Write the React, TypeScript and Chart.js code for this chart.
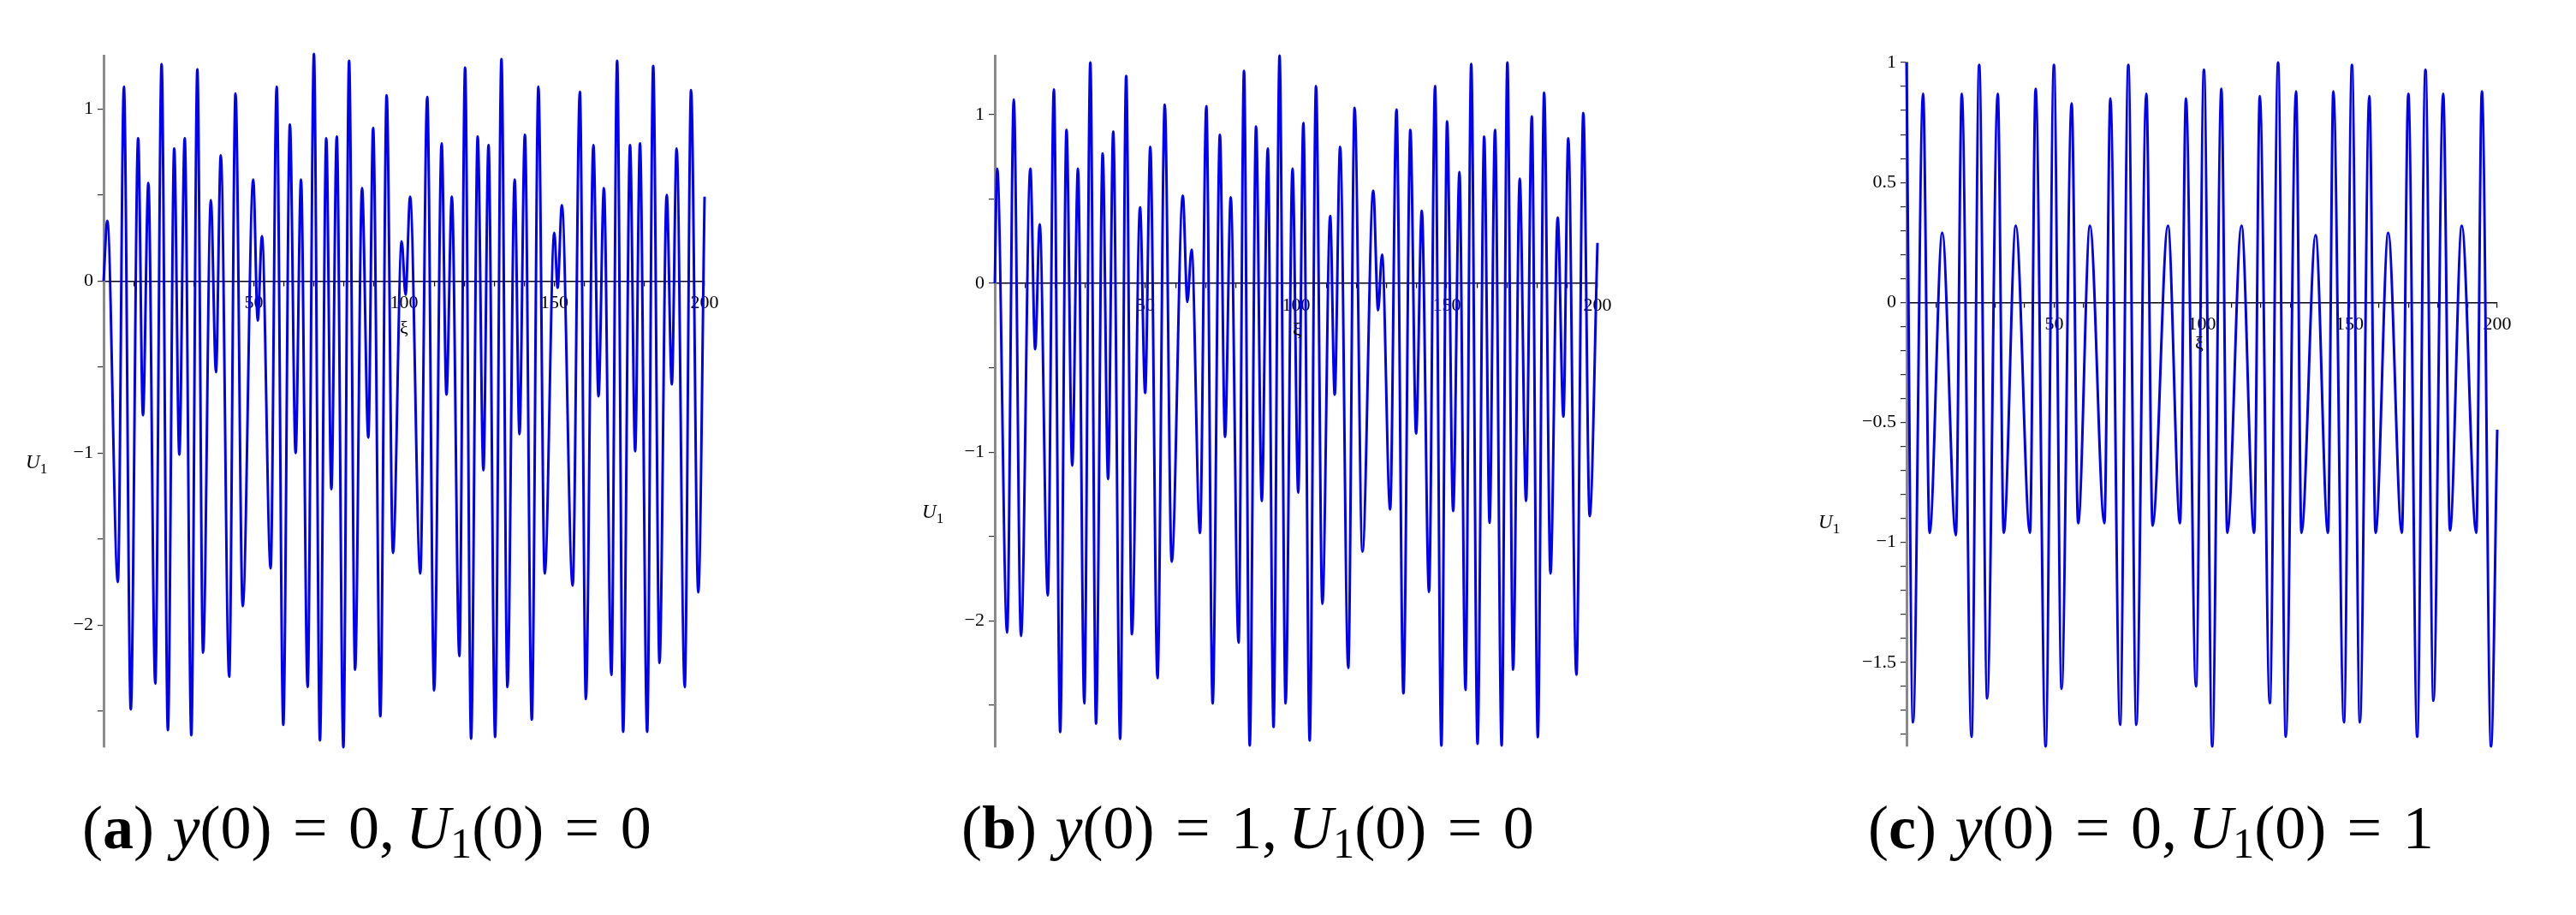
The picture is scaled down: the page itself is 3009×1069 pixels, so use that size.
import React, { useEffect, useRef } from "react";
import { Chart, registerables } from "chart.js";

Chart.register(...registerables);

// ---------- data (local extrema) ----------
const xiA = [0, 1.24, 4.76, 6.76, 9.05, 11.5, 13.1, 14.9, 17.2, 19.3, 21.4, 23.5, 25.2, 27.0, 29.2, 31.2, 33.1, 35.7, 37.4, 39.0, 41.8, 43.9, 46.3, 49.8, 51.3, 52.7, 55.6, 57.6, 59.8, 62.0, 63.9, 65.7, 67.9, 70.0, 72.0, 74.1, 75.8, 77.6, 79.8, 81.7, 83.7, 86.0, 88.1, 89.7, 92.1, 94.2, 96.3, 99.2, 100.5, 102.0, 105.4, 107.7, 110.0, 112.5, 114.1, 115.9, 118.4, 120.3, 122.3, 124.5, 126.4, 128.1, 130.3, 132.4, 134.4, 136.8, 138.4, 140.2, 142.5, 144.7, 146.8, 150.0, 151.1, 152.5, 156.1, 158.5, 160.5, 163.0, 164.7, 166.5, 169.0, 170.9, 172.9, 175.2, 176.9, 178.5, 180.9, 182.9, 185.0, 187.4, 189.1, 190.7, 193.4, 195.5, 197.9, 200];
const uA = [0, 0.35, -1.75, 1.13, -2.49, 0.83, -0.78, 0.57, -2.34, 1.26, -2.61, 0.77, -1.01, 0.83, -2.64, 1.23, -2.16, 0.47, -0.53, 0.73, -2.30, 1.09, -1.89, 0.59, -0.23, 0.26, -1.67, 1.13, -2.58, 0.91, -1.00, 0.59, -2.36, 1.32, -2.67, 0.83, -1.21, 0.84, -2.71, 1.28, -2.26, 0.54, -0.91, 0.89, -2.53, 1.08, -1.58, 0.23, -0.08, 0.49, -1.70, 1.07, -2.38, 0.80, -0.66, 0.49, -2.18, 1.24, -2.66, 0.84, -1.10, 0.79, -2.65, 1.29, -2.36, 0.59, -0.89, 0.85, -2.55, 1.13, -1.70, 0.28, -0.04, 0.44, -1.77, 1.10, -2.43, 0.79, -0.67, 0.54, -2.29, 1.28, -2.62, 0.79, -0.99, 0.80, -2.62, 1.25, -2.22, 0.50, -0.60, 0.77, -2.36, 1.11, -1.81, 0.49];

const xiB = [0, 0.8, 4.1, 6.3, 8.7, 11.8, 13.4, 14.9, 17.6, 19.6, 21.7, 23.8, 25.7, 27.6, 29.7, 31.7, 33.6, 35.8, 37.6, 39.3, 41.6, 43.6, 45.5, 48.2, 49.9, 51.6, 54.0, 56.4, 58.7, 62.4, 63.9, 65.3, 68.1, 70.2, 72.3, 74.7, 76.4, 78.3, 80.9, 82.7, 84.6, 86.7, 88.6, 90.6, 92.5, 94.5, 96.5, 98.8, 100.7, 102.4, 104.5, 106.6, 108.7, 111.3, 112.8, 114.6, 117.3, 119.4, 122.0, 125.6, 127.2, 128.5, 131.2, 133.3, 135.6, 137.9, 139.8, 141.7, 144.1, 146.1, 148.2, 150.1, 152.1, 154.2, 156.2, 158.1, 160.2, 162.4, 164.2, 166.0, 168.2, 170.1, 172.0, 174.2, 176.3, 178.2, 180.2, 182.3, 184.4, 186.8, 188.7, 190.3, 193.0, 195.3, 197.4, 200];
const uB = [0, 0.68, -2.07, 1.09, -2.09, 0.68, -0.39, 0.35, -1.85, 1.15, -2.66, 0.91, -1.08, 0.68, -2.49, 1.31, -2.61, 0.77, -1.16, 0.90, -2.70, 1.23, -2.08, 0.45, -0.65, 0.81, -2.34, 1.06, -1.65, 0.52, -0.11, 0.20, -1.48, 1.05, -2.49, 0.88, -0.91, 0.51, -2.13, 1.26, -2.74, 0.93, -1.29, 0.80, -2.63, 1.35, -2.49, 0.68, -1.24, 0.95, -2.71, 1.17, -1.90, 0.40, -0.66, 0.81, -2.28, 1.04, -1.59, 0.55, -0.16, 0.17, -1.34, 1.03, -2.43, 0.91, -0.89, 0.43, -1.83, 1.17, -2.74, 0.96, -1.35, 0.66, -2.41, 1.30, -2.73, 0.87, -1.42, 0.91, -2.74, 1.31, -2.29, 0.62, -1.29, 0.99, -2.69, 1.13, -1.72, 0.39, -0.79, 0.86, -2.32, 1.01, -1.38, 0.24];

const xiC = [0, 2.2, 5.6, 7.8, 12.1, 16.7, 18.7, 22.0, 24.6, 27.3, 30.9, 32.9, 37.0, 41.8, 43.7, 47.1, 49.9, 52.5, 55.9, 58.1, 62.1, 67.0, 69.0, 72.3, 75.1, 77.8, 81.2, 83.3, 88.5, 92.6, 94.6, 98.0, 100.7, 103.5, 106.6, 108.6, 113.4, 117.7, 119.6, 123.0, 125.8, 128.4, 131.9, 133.7, 138.5, 142.7, 144.5, 148.1, 150.8, 153.5, 156.7, 158.8, 163.1, 167.7, 169.9, 172.9, 175.7, 178.4, 181.7, 184.0, 188.0, 192.9, 194.8, 197.9, 200];
const uC = [1.0, -1.75, 0.87, -0.96, 0.29, -0.97, 0.87, -1.81, 0.99, -1.65, 0.87, -0.96, 0.32, -0.96, 0.89, -1.85, 0.99, -1.61, 0.83, -0.92, 0.32, -0.92, 0.85, -1.76, 0.99, -1.76, 0.87, -0.93, 0.32, -0.92, 0.85, -1.60, 0.97, -1.85, 0.89, -0.96, 0.32, -0.96, 0.86, -1.67, 1.0, -1.81, 0.88, -0.96, 0.28, -0.96, 0.88, -1.75, 0.99, -1.75, 0.86, -0.96, 0.29, -0.96, 0.87, -1.81, 0.97, -1.66, 0.87, -0.95, 0.32, -0.96, 0.88, -1.85, -0.53];

// ---------- tick labels ----------
const xTickLabels = [50, 100, 150, 200];
const yTickLabelsAB = [-2, -1, 0, 1];
const yTickLabelsC = [-1.5, -1, -0.5, 0, 0.5, 1];

const SERIF = '"Liberation Serif", "Times New Roman", serif';
const LINE_COLOR = "#0000f5";

type Panel = {
  xi: number[];
  u: number[];
  yMin: number;
  yMax: number;
  yStep: number;
  yLabels: number[];
  plotLeft: number;
  plotRight: number;
  plotTop: number;
  plotBottom: number;
};

const CANVAS_TOP = 20;
const CANVAS_BOTTOM = 905;
const LEFT_ROOM = 85;
const RIGHT_ROOM = 30;

function fmt(v: number): string {
  return v < 0 ? "\u2212" + String(Math.abs(v)) : String(v);
}

function PanelChart({ p }: { p: Panel }) {
  const ref = useRef<HTMLCanvasElement | null>(null);
  const canvasLeft = p.plotLeft - LEFT_ROOM;
  const width = p.plotRight + RIGHT_ROOM - canvasLeft;
  const height = CANVAS_BOTTOM - CANVAS_TOP;

  useEffect(() => {
    if (!ref.current) return;
    const data = p.xi.map((x, i) => ({ x, y: p.u[i] }));
    const chart = new Chart(ref.current, {
      type: "line",
      data: {
        datasets: [
          {
            data,
            borderColor: LINE_COLOR,
            borderWidth: 3,
            pointRadius: 0,
            cubicInterpolationMode: "monotone",
            fill: false,
            clip: false as any,
          },
        ],
      },
      options: {
        animation: false,
        responsive: false,
        devicePixelRatio: 1,
        events: [],
        layout: {
          padding: {
            left: 0,
            right: RIGHT_ROOM,
            top: p.plotTop - CANVAS_TOP,
            bottom: CANVAS_BOTTOM - p.plotBottom,
          },
        },
        plugins: {
          legend: { display: false },
          tooltip: { enabled: false },
          title: { display: false },
        },
        scales: {
          x: {
            type: "linear",
            min: 0,
            max: 200,
            position: { y: 0 } as any,
            border: { display: true, color: "#000000", width: 1.5 },
            grid: {
              drawOnChartArea: false,
              drawTicks: true,
              tickLength: 5,
              color: "#000000",
              lineWidth: 1.2,
            },
            ticks: {
              stepSize: 10,
              autoSkip: false,
              maxRotation: 0,
              padding: 8,
              color: "#000000",
              font: { family: SERIF, size: 22 },
              callback: (value: any) => {
                const v = Number(value);
                return xTickLabels.includes(v) ? String(v) : "";
              },
            },
          },
          y: {
            type: "linear",
            position: "left",
            min: p.yMin,
            max: p.yMax,
            border: { display: true, color: "#8a8a8a", width: 3 },
            grid: {
              drawOnChartArea: false,
              drawTicks: true,
              tickLength: 7,
              color: "#333333",
              lineWidth: 1.2,
            },
            ticks: {
              stepSize: p.yStep,
              includeBounds: false,
              autoSkip: false,
              padding: 5,
              color: "#000000",
              font: { family: SERIF, size: 22 },
              callback: (value: any) => {
                const v = Number(value);
                const hit = p.yLabels.find((l) => Math.abs(l - v) < 1e-6);
                return hit === undefined ? "" : fmt(hit);
              },
            },
            afterFit: (scale: any) => {
              scale.width = LEFT_ROOM;
            },
          },
        },
      },
    });
    return () => chart.destroy();
  }, []);

  return (
    <canvas
      ref={ref}
      width={width}
      height={height}
      style={{
        position: "absolute",
        left: canvasLeft,
        top: CANVAS_TOP,
        width,
        height,
      }}
    />
  );
}

const panels: Panel[] = [
  {
    xi: xiA,
    u: uA,
    yMin: -2.71,
    yMax: 1.31,
    yStep: 0.5,
    yLabels: yTickLabelsAB,
    plotLeft: 121,
    plotRight: 823,
    plotTop: 65,
    plotBottom: 873,
  },
  {
    xi: xiB,
    u: uB,
    yMin: -2.75,
    yMax: 1.35,
    yStep: 0.5,
    yLabels: yTickLabelsAB,
    plotLeft: 1162,
    plotRight: 1866,
    plotTop: 65,
    plotBottom: 873,
  },
  {
    xi: xiC,
    u: uC,
    yMin: -1.85,
    yMax: 1.0,
    yStep: 0.1,
    yLabels: yTickLabelsC,
    plotLeft: 2227,
    plotRight: 2917,
    plotTop: 73,
    plotBottom: 872,
  },
];

const axisTitles = [
  { u: { left: 30, top: 527 }, xi: { left: 467, top: 370 } },
  { u: { left: 1077, top: 585 }, xi: { left: 1510, top: 372 } },
  { u: { left: 2124, top: 597 }, xi: { left: 2564, top: 388 } },
];

const captions = [
  { tag: "a", y0: "0", u0: "0", left: 96 },
  { tag: "b", y0: "1", u0: "0", left: 1123 },
  { tag: "c", y0: "0", u0: "1", left: 2182 },
];

function Caption({ c }: { c: (typeof captions)[number] }) {
  const eq: React.CSSProperties = { margin: "0 0.34em" };
  return (
    <div
      style={{
        position: "absolute",
        left: c.left,
        top: 931,
        fontFamily: SERIF,
        fontSize: 72,
        lineHeight: "72px",
        whiteSpace: "nowrap",
        color: "#000",
      }}
    >
      <span>(</span>
      <span style={{ fontWeight: "bold" }}>{c.tag}</span>
      <span>)</span>
      <span style={{ marginLeft: "0.3em", fontStyle: "italic" }}>y</span>
      <span>(0)</span>
      <span style={eq}>=</span>
      <span>{c.y0},</span>
      <span style={{ marginLeft: "0.18em", fontStyle: "italic" }}>U</span>
      <sub style={{ fontSize: "0.7em", verticalAlign: "-0.22em" }}>1</sub>
      <span>(0)</span>
      <span style={eq}>=</span>
      <span>{c.u0}</span>
    </div>
  );
}

export default function App() {
  return (
    <div
      style={{
        position: "absolute",
        left: 0,
        top: 0,
        width: 3009,
        height: 1069,
        background: "#ffffff",
        overflow: "hidden",
      }}
    >
      {panels.map((p, i) => (
        <PanelChart key={i} p={p} />
      ))}
      {axisTitles.map((t, i) => (
        <React.Fragment key={i}>
          <div
            style={{
              position: "absolute",
              left: t.u.left,
              top: t.u.top,
              fontFamily: SERIF,
              fontSize: 23,
              whiteSpace: "nowrap",
            }}
          >
            <span style={{ fontStyle: "italic" }}>U</span>
            <sub style={{ fontSize: "0.75em" }}>1</sub>
          </div>
          <div
            style={{
              position: "absolute",
              left: t.xi.left,
              top: t.xi.top,
              fontFamily: SERIF,
              fontSize: 22,
            }}
          >
            ξ
          </div>
        </React.Fragment>
      ))}
      {captions.map((c, i) => (
        <Caption key={i} c={c} />
      ))}
    </div>
  );
}
